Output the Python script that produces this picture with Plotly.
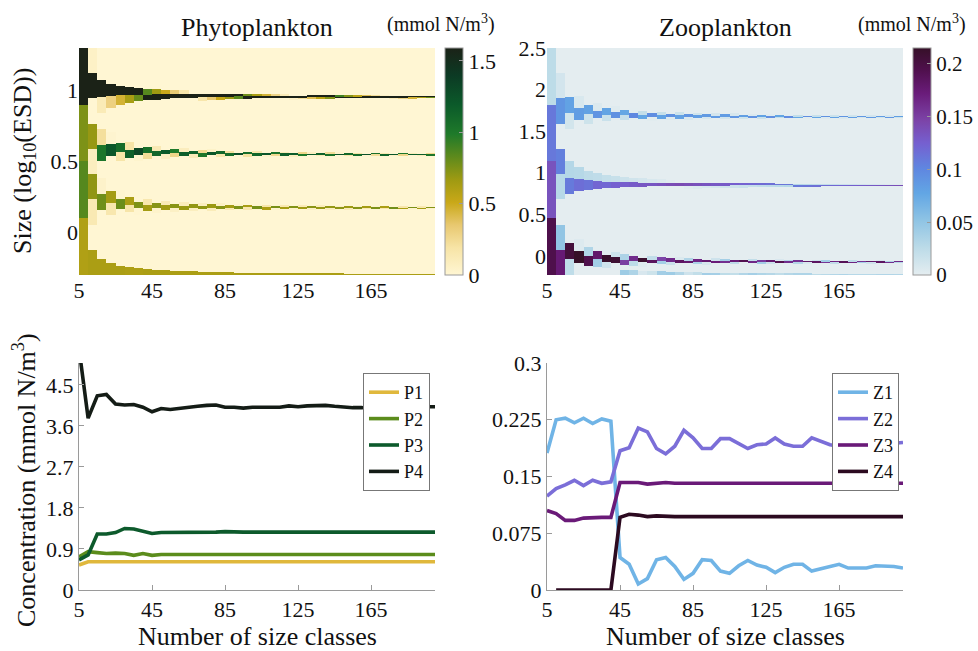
import numpy as np
import plotly.graph_objects as go

# ---------------- data ----------------
n_classes = list(range(5, 201, 5))  # 40 runs

P1 = [0.55, 0.62, 0.62, 0.62, 0.62, 0.61, 0.61, 0.62, 0.62, 0.62,
      0.62, 0.62, 0.62, 0.62, 0.62, 0.62, 0.62, 0.62, 0.62, 0.62,
      0.62, 0.62, 0.62, 0.62, 0.62, 0.62, 0.62, 0.62, 0.62, 0.62,
      0.62, 0.62, 0.62, 0.62, 0.62, 0.62, 0.62, 0.62, 0.62, 0.62]
P2 = [0.73, 0.84, 0.82, 0.80, 0.81, 0.80, 0.76, 0.80, 0.76, 0.78,
      0.78, 0.78, 0.78, 0.78, 0.78, 0.78, 0.78, 0.78, 0.78, 0.78,
      0.78, 0.78, 0.78, 0.78, 0.78, 0.78, 0.78, 0.78, 0.78, 0.78,
      0.78, 0.78, 0.78, 0.78, 0.78, 0.78, 0.78, 0.78, 0.78, 0.78]
P3 = [0.66, 0.77, 1.23, 1.23, 1.26, 1.35, 1.34, 1.29, 1.24, 1.26,
      1.26, 1.26, 1.26, 1.26, 1.26, 1.27, 1.28, 1.27, 1.27, 1.27,
      1.27, 1.27, 1.27, 1.27, 1.27, 1.27, 1.27, 1.27, 1.27, 1.27,
      1.27, 1.27, 1.27, 1.27, 1.27, 1.27, 1.27, 1.27, 1.27, 1.27]
P4 = [5.30, 3.77, 4.26, 4.29, 4.08, 4.06, 4.07, 4.01, 3.91, 3.98,
      3.96, 3.99, 4.02, 4.03, 4.05, 4.06, 4.01, 4.01, 3.99, 4.01,
      4.01, 4.01, 4.01, 4.04, 4.02, 4.04, 4.04, 4.05, 4.03, 4.01,
      4.00, 4.00, 4.02, 4.02, 4.02, 4.02, 4.02, 4.02, 4.02, 4.02]

Z1 = [0.181, 0.225, 0.227, 0.221, 0.227, 0.220, 0.226, 0.223, 0.043, 0.034,
      0.008, 0.015, 0.040, 0.043, 0.031, 0.014, 0.022, 0.040, 0.039, 0.025,
      0.022, 0.032, 0.039, 0.033, 0.030, 0.023, 0.030, 0.034, 0.034, 0.025,
      0.028, 0.031, 0.034, 0.029, 0.029, 0.029, 0.032, 0.032, 0.031, 0.029]
Z2 = [0.124, 0.134, 0.139, 0.145, 0.138, 0.145, 0.141, 0.143, 0.184, 0.188,
      0.214, 0.209, 0.187, 0.180, 0.190, 0.211, 0.201, 0.187, 0.187, 0.200,
      0.200, 0.193, 0.187, 0.192, 0.193, 0.201, 0.193, 0.190, 0.190, 0.201,
      0.197, 0.192, 0.190, 0.193, 0.196, 0.195, 0.194, 0.193, 0.194, 0.195]
Z3 = [0.105, 0.101, 0.092, 0.092, 0.095, 0.096, 0.096, 0.096, 0.142, 0.142,
      0.142, 0.140, 0.141, 0.142, 0.141, 0.141, 0.141, 0.141, 0.141, 0.142,
      0.141, 0.141, 0.141, 0.141, 0.141, 0.141, 0.141, 0.141, 0.141, 0.141,
      0.141, 0.141, 0.141, 0.141, 0.141, 0.141, 0.141, 0.141, 0.141, 0.141]
Z4 = [None, 0.0, 0.0, 0.0, 0.0, 0.0, 0.0, 0.0, 0.096, 0.100,
      0.099, 0.097, 0.098, 0.097, 0.097, 0.097, 0.097, 0.096, 0.096, 0.097,
      0.097, 0.097, 0.097, 0.097, 0.097, 0.097, 0.097, 0.097, 0.097, 0.097,
      0.097, 0.097, 0.097, 0.097, 0.097, 0.097, 0.097, 0.097, 0.097, 0.097]

# cells of the 5-class run, bottom to top
phyto_first_run = [0.60, 0.85, 0.75, 1.60]
zoo_first_run = [0.195, 0.135, 0.110, 0.025]

# size range (log10 ESD) and emergent group sizes
phyto_size_range = [-0.30, 1.30]
phyto_group_size = [-0.30, 0.169, 0.545, 0.950]
zoo_size_range = [-0.23, 2.50]
zoo_group_size = [-0.23, -0.08, 0.84, 1.665]

x_ticks = [5, 45, 85, 125, 165]
phyto_heat_ticks = [0, 0.5, 1]
phyto_heat_labels = ["0", "0.5", "1"]
zoo_heat_ticks = [0, 0.5, 1, 1.5, 2, 2.5]
zoo_heat_labels = ["0", "0.5", "1", "1.5", "2", "2.5"]
phyto_cb_ticks = [0, 0.5, 1, 1.5]
phyto_cb_labels = ["0", "0.5", "1", "1.5"]
zoo_cb_ticks = [0, 0.05, 0.1, 0.15, 0.2]
zoo_cb_labels = ["0", "0.05", "0.1", "0.15", "0.2"]
phyto_conc_ticks = [0, 0.9, 1.8, 2.7, 3.6, 4.5]
phyto_conc_labels = ["0", "0.9", "1.8", "2.7", "3.6", "4.5"]
zoo_conc_ticks = [0, 0.075, 0.15, 0.225, 0.3]
zoo_conc_labels = ["0", "0.075", "0.15", "0.225", "0.3"]

# ---------------- heatmap construction ----------------
def size_grid(ymin, ymax, centers, totals_per_run, first_run, nrows=1100):
    """For each run with n classes (at linspace(ymin, ymax, n)), each emergent group's
    biomass sits mostly in its nearest class, with a share leaking into the next one.
    As with pcolor, n-1 cells are shown, each coloured by its lower class."""
    edges = np.linspace(ymin, ymax, nrows + 1)
    mids = 0.5 * (edges[:-1] + edges[1:])
    cols = []
    for j, n in enumerate(n_classes[:-1]):
        v = np.zeros(n)
        if j == 0:
            v[:len(first_run)] = first_run
        else:
            for c, tot in zip(centers, totals_per_run[j]):
                if not tot:
                    continue
                f = (c - ymin) / (ymax - ymin) * (n - 1)
                near = int(np.clip(round(f), 0, n - 1))
                d = f - near
                other = near + (1 if d > 0 else -1)
                share = 0.45 * abs(d)
                if 0 <= other < n and share > 0:
                    v[near] += tot * (1 - share)
                    v[other] += tot * share
                else:
                    v[near] += tot
        idx = np.clip(((mids - ymin) / (ymax - ymin) * (n - 1)).astype(int), 0, n - 2)
        cols.append(v[idx])
    return edges, np.array(cols).T

phyto_tot = [[P1[j], P2[j], P3[j], P4[j]] for j in range(len(n_classes))]
zoo_tot = []
for j in range(len(n_classes)):
    if not Z4[j]:  # before the 4th group emerges, groups occupy the upper three sizes
        zoo_tot.append([0, Z1[j], Z2[j], Z3[j]])
    else:
        zoo_tot.append([Z1[j], Z2[j], Z3[j], Z4[j]])

py_edges, pz = size_grid(*phyto_size_range, phyto_group_size, phyto_tot, phyto_first_run)
zy_edges, zz = size_grid(*zoo_size_range, zoo_group_size, zoo_tot, zoo_first_run)

phyto_cs = [[0.0, "#fff6d3"], [0.12, "#f7e4a6"], [0.22, "#e8c870"], [0.32, "#c9a818"],
            [0.42, "#9e9a12"], [0.52, "#5e8a1c"], [0.62, "#1f7a2a"], [0.75, "#0b5a2a"],
            [0.88, "#0c3a24"], [1.0, "#1b2217"]]
zoo_cs = [[0.0, "#e4edf0"], [0.12, "#bcdbe8"], [0.24, "#8fc4e4"], [0.36, "#62a6e4"],
          [0.47, "#5f86e0"], [0.58, "#7560d0"], [0.68, "#7c44a8"], [0.8, "#6a1c7a"],
          [0.9, "#50104e"], [1.0, "#361028"]]

FONT = "Liberation Serif"
W, H = 978, 651
TXT = "#111111"

def px(x):
    return x / W

def py(y):
    return 1 - y / H

fig = go.Figure()

cb_common = dict(thickness=18, lenmode="pixels", len=227, yanchor="middle", y=py(161.5),
                 xanchor="left", xpad=0, ypad=0, outlinecolor="#9a9a9a", outlinewidth=1,
                 ticks="inside", ticklen=4, tickcolor="#9a9a9a")

fig.add_trace(go.Heatmap(x=n_classes, y=py_edges, z=pz, zmin=0, zmax=1.59,
                         colorscale=phyto_cs, xaxis="x", yaxis="y", zsmooth=False,
                         colorbar=dict(x=px(445), tickvals=phyto_cb_ticks,
                                       ticktext=phyto_cb_labels,
                                       tickfont=dict(family=FONT, size=22, color=TXT),
                                       **cb_common),
                         hoverinfo="skip"))
fig.add_trace(go.Heatmap(x=n_classes, y=zy_edges, z=zz, zmin=0, zmax=0.215,
                         colorscale=zoo_cs, xaxis="x2", yaxis="y2", zsmooth=False,
                         colorbar=dict(x=px(913), tickvals=zoo_cb_ticks,
                                       ticktext=zoo_cb_labels,
                                       tickfont=dict(family=FONT, size=21, color=TXT),
                                       **cb_common),
                         hoverinfo="skip"))

p_colors = ["#e0b83c", "#5b8c1c", "#0d5a2c", "#141c16"]
z_colors = ["#70b4e6", "#7b6ed8", "#6a1a78", "#2c0a20"]
for name, ys, col in zip(["P1", "P2", "P3", "P4"], [P1, P2, P3, P4], p_colors):
    fig.add_trace(go.Scatter(x=n_classes, y=ys, mode="lines", name=name,
                             line=dict(color=col, width=3.6), xaxis="x3", yaxis="y3",
                             legend="legend"))
for name, ys, col in zip(["Z1", "Z2", "Z3", "Z4"], [Z1, Z2, Z3, Z4], z_colors):
    fig.add_trace(go.Scatter(x=n_classes, y=ys, mode="lines", name=name,
                             line=dict(color=col, width=3.6), xaxis="x4", yaxis="y4",
                             legend="legend2"))

tickfont = dict(family=FONT, size=22, color=TXT)
xl, xr = px(79), px(435)
xl2, xr2 = px(547), px(903)
top_dom = [py(275), py(48)]
bot_dom = [py(590), py(363)]

heat_x = dict(range=[5, 200], tickvals=x_ticks, showline=False, ticks="", showgrid=False,
              zeroline=False, tickfont=tickfont)
line_x = dict(range=[5, 200], tickvals=x_ticks, showline=True, linecolor="#9a9a9a", linewidth=1,
              ticks="inside", ticklen=5, tickcolor="#9a9a9a", showgrid=False, zeroline=False,
              tickfont=tickfont)
line_y = dict(showline=True, linecolor="#9a9a9a", linewidth=1, ticks="inside", ticklen=5,
              tickcolor="#9a9a9a", showgrid=False, zeroline=False, tickfont=tickfont)
heat_y = dict(showline=False, ticks="", showgrid=False, zeroline=False, tickfont=tickfont)

leg_common = dict(xanchor="left", yanchor="top", bordercolor="#777", borderwidth=1,
                  bgcolor="white", font=dict(family=FONT, size=18, color=TXT),
                  tracegroupgap=0, itemwidth=30)

fig.update_layout(
    width=W, height=H, margin=dict(l=0, r=0, t=0, b=0, autoexpand=False),
    paper_bgcolor="white", plot_bgcolor="white",
    font=dict(family=FONT, color=TXT),
    xaxis=dict(domain=[xl, xr], anchor="y", **heat_x),
    yaxis=dict(domain=top_dom, anchor="x", range=phyto_size_range, tickvals=phyto_heat_ticks,
               ticktext=phyto_heat_labels, **heat_y),
    xaxis2=dict(domain=[xl2, xr2], anchor="y2", **heat_x),
    yaxis2=dict(domain=top_dom, anchor="x2", range=zoo_size_range, tickvals=zoo_heat_ticks,
                ticktext=zoo_heat_labels, **heat_y),
    xaxis3=dict(domain=[xl, xr], anchor="y3", **line_x),
    yaxis3=dict(domain=bot_dom, anchor="x3", range=[0, 4.98], tickvals=phyto_conc_ticks,
                ticktext=phyto_conc_labels, **line_y),
    xaxis4=dict(domain=[xl2, xr2], anchor="y4", **line_x),
    yaxis4=dict(domain=bot_dom, anchor="x4", range=[0, 0.3], tickvals=zoo_conc_ticks,
                ticktext=zoo_conc_labels, **line_y),
    legend=dict(x=px(363), y=py(373), **leg_common),
    legend2=dict(x=px(832), y=py(373), **leg_common),
)

ann = [
    dict(text="Phytoplankton", x=px(257), y=py(28), size=26),
    dict(text="Zooplankton", x=px(725), y=py(28), size=26),
    dict(text="(mmol N/m<sup>3</sup>)", x=px(441), y=py(23), size=20),
    dict(text="(mmol N/m<sup>3</sup>)", x=px(912), y=py(23), size=20),
    dict(text="Number of size classes", x=px(257), y=py(636), size=26),
    dict(text="Number of size classes", x=px(725), y=py(636), size=26),
]
for a in ann:
    fig.add_annotation(text=a["text"], x=a["x"], y=a["y"], xref="paper", yref="paper",
                       xanchor="center", yanchor="middle", showarrow=False,
                       font=dict(family=FONT, size=a["size"], color=TXT))
fig.add_annotation(text="Size (log<sub>10</sub>(ESD))", x=px(24), y=py(161), xref="paper",
                   yref="paper", textangle=-90, showarrow=False, xanchor="center",
                   yanchor="middle", font=dict(family=FONT, size=26, color=TXT))
fig.add_annotation(text="Concentration (mmol N/m<sup>3</sup>)", x=px(24), y=py(480),
                   xref="paper", yref="paper", textangle=-90, showarrow=False,
                   xanchor="center", yanchor="middle", font=dict(family=FONT, size=26, color=TXT))

fig.write_html("out.html", config={"displayModeBar": False},
               post_script="document.body.style.margin='0px';")
